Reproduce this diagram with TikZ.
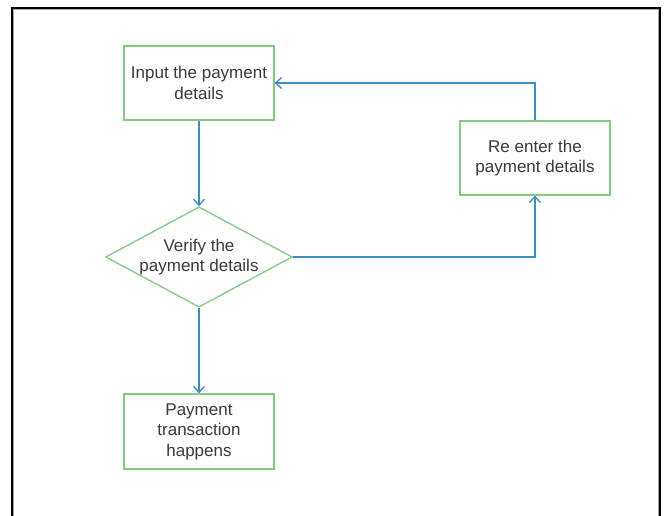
\documentclass[tikz,border=0pt]{standalone}
\usepackage{fontspec}
\setmainfont{Liberation Sans}
\usetikzlibrary{shapes.geometric,arrows.meta}
\definecolor{boxgreen}{HTML}{82CC7E}
\definecolor{flowblue}{HTML}{3C8DCB}
\definecolor{labelgray}{HTML}{3A3A3A}
\begin{document}
\begin{tikzpicture}[x=1pt,y=-1pt,
  every node/.style={font=\fontsize{17}{20.5}\selectfont, text=labelgray, align=center},
  procbox/.style={draw=boxgreen, line width=1.3pt, fill=white, rectangle,
    minimum width=150pt, minimum height=74pt, inner sep=0pt},
  decision/.style={draw=boxgreen, line width=1.3pt, fill=white, diamond,
    aspect=1.86, minimum width=186pt, minimum height=100pt, inner sep=0pt},
  flow/.style={draw=flowblue, line width=1.3pt,
    -{Straight Barb[length=6pt,width=11pt,line width=1.3pt]}}]
  \useasboundingbox (0,0) rectangle (665,516);
  % window frame, open at the bottom
  \draw[black, line width=1.2pt] (12,516) -- (12,8) -- (660,8) -- (660,516);
  \draw[gray!70, line width=0.8pt] (13.5,516) -- (13.5,9.5) -- (658.5,9.5) -- (658.5,516);

  % steps
  \node[procbox] (input) at (199,83) {Input the payment\\details};
  \node[decision] (verify) at (199,257) {Verify the\\payment details};
  \node[procbox] (reenter) at (535,158) {Re enter the\\payment details};
  \node[procbox, minimum height=75pt] (done) at (199,431.5) {Payment\\transaction\\happens};

  % connectors
  \draw[flow] (input.south) -- (verify.north);
  \draw[flow] (verify.south) -- (done.north);
  \draw[flow] (verify.east) -| (reenter.south);
  \draw[flow] (reenter.north) |- (input.east);
\end{tikzpicture}
\end{document}
